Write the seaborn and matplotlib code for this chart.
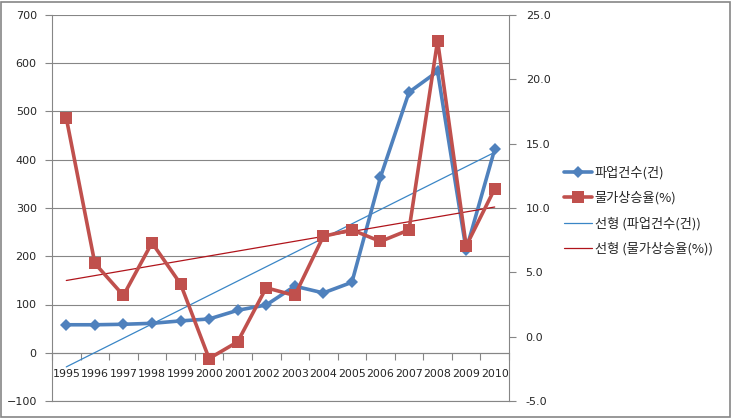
"""Strike counts vs. inflation rate, 1995-2010, with linear trend lines."""

import matplotlib

matplotlib.use("Agg")
import matplotlib.pyplot as plt
import numpy as np
import pandas as pd
import seaborn as sns
from matplotlib.lines import Line2D
from matplotlib.patches import Rectangle
from matplotlib.ticker import FormatStrFormatter, MultipleLocator

years = ["1995", "1996", "1997", "1998", "1999", "2000", "2001", "2002",
         "2003", "2004", "2005", "2006", "2007", "2008", "2009", "2010"]
strikes = [58, 58, 59, 61, 66, 70, 88, 99, 138, 124, 146, 364, 540, 583, 213, 422]
inflation = [17.0, 5.7, 3.2, 7.3, 4.1, -1.7, -0.4, 3.8, 3.2, 7.8, 8.3, 7.4, 8.3, 23.0, 7.05, 11.5]

label_strikes = "파업건수(건)"
label_inflation = "물가상승율(%)"
label_trend_strikes = "선형 (파업건수(건))"
label_trend_inflation = "선형 (물가상승율(%))"

BLUE = "#4F81BD"
RED = "#C0504D"
TREND_BLUE = "#3A86C6"
TREND_RED = "#B0141B"
GRID = "#868686"

sns.set_theme(style="white")
plt.rcParams["font.family"] = ["Noto Sans CJK KR", "DejaVu Sans"]

df = pd.DataFrame({"pos": np.arange(len(years)), "strikes": strikes, "inflation": inflation})

fig = plt.figure(figsize=(7.32, 4.18), dpi=100)
ax = fig.add_axes([52 / 732, 17 / 418, 457 / 732, 386 / 418])
ax2 = ax.twinx()

# left axis: strike counts
sns.regplot(data=df, x="pos", y="strikes", ax=ax, scatter=False, ci=None, truncate=True,
            line_kws={"color": TREND_BLUE, "lw": 0.9, "zorder": 4})
sns.lineplot(data=df, x="pos", y="strikes", ax=ax, color=BLUE, lw=2.6, marker="D",
             markersize=6.5, markeredgewidth=0, zorder=5)

# right axis: inflation
sns.regplot(data=df, x="pos", y="inflation", ax=ax2, scatter=False, ci=None, truncate=True,
            line_kws={"color": TREND_RED, "lw": 0.9, "zorder": 4})
sns.lineplot(data=df, x="pos", y="inflation", ax=ax2, color=RED, lw=2.6, marker="s",
             markersize=8.5, markeredgewidth=0, zorder=5)

ax.set_xlim(-0.5, len(years) - 0.5)
ax.set_ylim(-100, 700)
ax.yaxis.set_major_locator(MultipleLocator(100))
ax2.set_ylim(-5, 25)
ax2.yaxis.set_major_locator(MultipleLocator(5))
ax2.yaxis.set_major_formatter(FormatStrFormatter("%.1f"))

ax.set_xticks(df["pos"].tolist())
ax.set_xticklabels(years)
ax.set_xticks(np.arange(-0.5, len(years)), minor=True)
ax.tick_params(axis="x", which="major", length=0, pad=12, labelsize=7.9, labelfontfamily="DejaVu Sans")
ax.tick_params(axis="x", which="minor", length=5, direction="out", color=GRID, width=0.8)
ax.tick_params(axis="x", which="both", bottom=True)
ax.tick_params(axis="y", length=5, direction="out", color=GRID, width=0.8, labelsize=8, pad=6,
               left=True, labelfontfamily="DejaVu Sans")
ax2.tick_params(axis="y", length=5, direction="out", color=GRID, width=0.8, labelsize=8, pad=7,
                right=True, labelfontfamily="DejaVu Sans")

ax.set_xlabel("")
ax.set_ylabel("")
ax2.set_ylabel("")

ax.grid(axis="y", color=GRID, lw=0.8)
ax.set_axisbelow(True)
ax.spines["bottom"].set_position(("data", 0))
for name in ["top", "right"]:
    ax.spines[name].set_visible(False)
for name in ["top", "left"]:
    ax2.spines[name].set_visible(False)
# ax2's bottom spine stands in for the -100 gridline at the plot floor
for spine in [ax.spines["left"], ax.spines["bottom"], ax2.spines["right"], ax2.spines["bottom"]]:
    spine.set_visible(True)
    spine.set_color(GRID)
    spine.set_linewidth(0.8)

handles = [
    Line2D([], [], color=BLUE, lw=2.6, marker="D", markersize=6, markeredgewidth=0),
    Line2D([], [], color=RED, lw=2.6, marker="s", markersize=8, markeredgewidth=0),
    Line2D([], [], color=TREND_BLUE, lw=0.9),
    Line2D([], [], color=TREND_RED, lw=0.9),
]
labels = [label_strikes, label_inflation, label_trend_strikes, label_trend_inflation]
fig.legend(handles, labels, loc="center left", bbox_to_anchor=(559 / 732, 1 - 211 / 418),
           frameon=False, fontsize=9.5, handlelength=2.1, handletextpad=0.2, labelspacing=0.9,
           borderaxespad=0)

# chart area border
fig.patches.append(Rectangle((0.002, 0.003), 0.995, 0.993, transform=fig.transFigure,
                             fill=False, edgecolor=GRID, lw=1.2))

fig.savefig("out.png", dpi=100)
